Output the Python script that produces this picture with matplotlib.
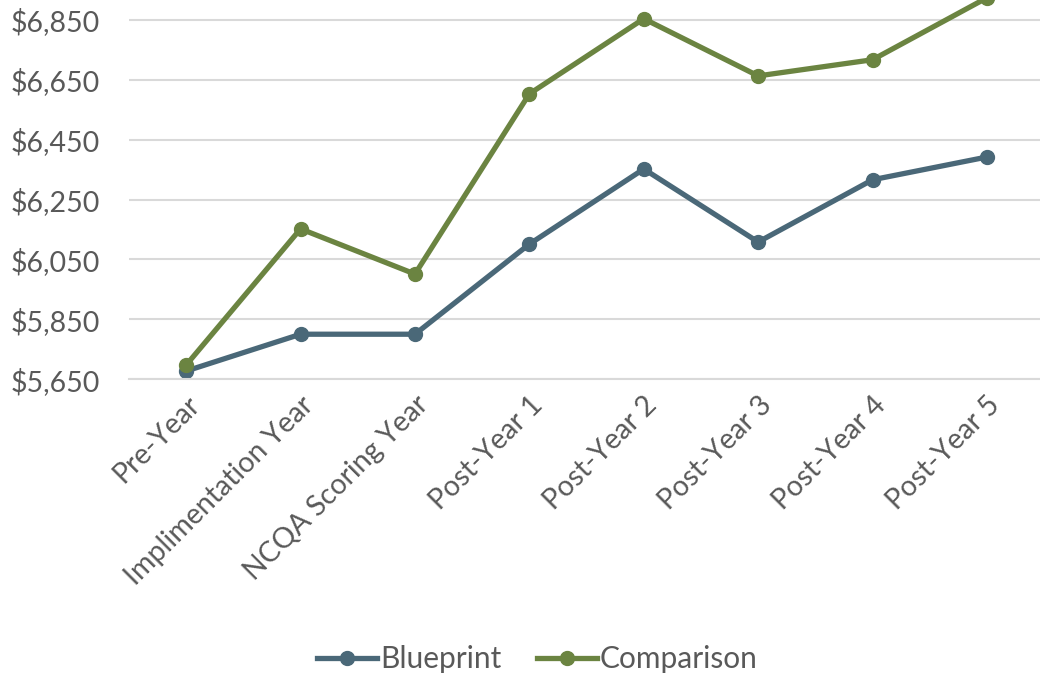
import matplotlib
matplotlib.use("Agg")
import matplotlib.pyplot as plt
from matplotlib.ticker import FuncFormatter

plt.rcParams['font.family'] = ['Lato', 'DejaVu Sans']

# data
categories = ["Pre-Year", "Implimentation Year", "NCQA Scoring Year", "Post-Year 1",
              "Post-Year 2", "Post-Year 3", "Post-Year 4", "Post-Year 5"]
blueprint = [5677, 5800, 5800, 6101, 6352, 6108, 6316, 6392]
comparison = [5697, 6152, 6001, 6603, 6854, 6663, 6717, 6924]
yticks = [5650, 5850, 6050, 6250, 6450, 6650, 6850]

BLUE = "#4A6878"
GREEN = "#6B8441"
TEXT = "#595959"

fig = plt.figure(figsize=(10.4, 6.77), dpi=100)
# axes top sits above the figure edge (reference is cropped)
ax = fig.add_axes([0.124, 0.440, 0.880, 0.619])

x = list(range(len(categories)))
ax.plot(x, blueprint, color=BLUE, lw=3.8, marker="o", ms=10, label="Blueprint",
        solid_joinstyle="round", clip_on=False)
ax.plot(x, comparison, color=GREEN, lw=3.8, marker="o", ms=10, label="Comparison",
        solid_joinstyle="round", clip_on=False)

ax.set_xlim(-0.5, len(categories) - 0.5)
ax.set_ylim(5650, 7050)
ax.set_yticks(yticks)
ax.yaxis.set_major_formatter(FuncFormatter(lambda v, p: "${:,.0f}".format(v)))
ax.grid(axis="y", color="#D9D9D9", lw=1.5)
ax.set_axisbelow(True)
for s in ["top", "right", "left"]:
    ax.spines[s].set_visible(False)
ax.spines["bottom"].set_color("#D9D9D9")
ax.spines["bottom"].set_linewidth(1.5)
ax.tick_params(axis="both", length=0, colors=TEXT, labelsize=20.5)
ax.tick_params(axis="y", pad=21)

ax.set_xticks(x)
ax.set_xticklabels(categories, rotation=45, ha="right", va="top", rotation_mode="anchor")
ax.tick_params(axis="x", pad=9)

leg = fig.legend(loc="center", bbox_to_anchor=(0.517, 0.026), ncol=2, frameon=False,
                 fontsize=21.5, handlelength=2.0, handletextpad=0.1, columnspacing=1.2)
for t in leg.get_texts():
    t.set_color(TEXT)

fig.savefig("out.png", dpi=100)
